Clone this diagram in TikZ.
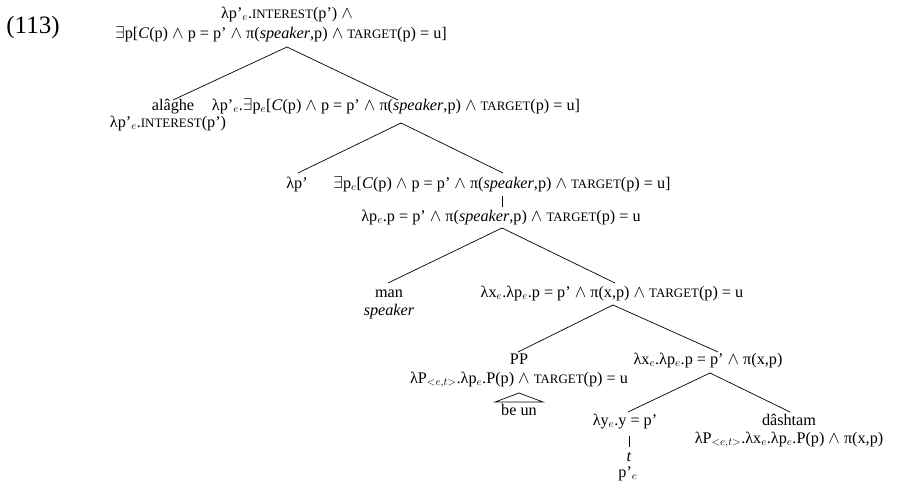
\documentclass[tikz,border=0pt]{standalone}
\usepackage{fontspec}
\setmainfont{Liberation Serif}
\newcommand{\smc}[1]{{\fontsize{12.9}{15}\selectfont #1}}
\newcommand{\band}{$\wedge$}
\begin{document}
\begin{tikzpicture}[x=1pt,y=-1pt,
  lab/.style={anchor=base,inner sep=0pt,font=\fontsize{16.2}{19}\selectfont},
  branch/.style={line width=0.7pt}]
\useasboundingbox (0,0) rectangle (898,482);
\node[lab,font=\fontsize{25}{27}\selectfont] (ex) at (33,33) {(113)};
% root
\node[lab] (r1) at (287,18) {λp’$_e$.\smc{INTEREST}(p’) \band};
\node[lab] (r2) at (281,38) {$\exists$p[\textit{C}(p) \band\ p = p’ \band\ π(\textit{speaker},p) \band\ \smc{TARGET}(p) = u]};
\node[lab] (a1) at (173,110) {alâghe};
\node[lab] (a2) at (168,127) {λp’$_e$.\smc{INTEREST}(p’)};
\node[lab] (b0) at (396,110) {λp’$_e$.$\exists$p$_e$[\textit{C}(p) \band\ p = p’ \band\ π(\textit{speaker},p) \band\ \smc{TARGET}(p) = u]};
\node[lab] (c1) at (297,188) {λp’};
\node[lab] (c2) at (502,188) {$\exists$p$_e$[\textit{C}(p) \band\ p = p’ \band\ π(\textit{speaker},p) \band\ \smc{TARGET}(p) = u]};
\node[lab] (d0) at (501,221) {λp$_e$.p = p’ \band\ π(\textit{speaker},p) \band\ \smc{TARGET}(p) = u};
\node[lab] (e1) at (389,297) {man};
\node[lab] (e2) at (389,315) {\textit{speaker}};
\node[lab] (f0) at (612,297) {λx$_e$.λp$_e$.p = p’ \band\ π(x,p) \band\ \smc{TARGET}(p) = u};
\node[lab] (g1) at (519,364) {PP};
\node[lab] (g2) at (519,383) {λP$_{<e,t>}$.λp$_e$.P(p) \band\ \smc{TARGET}(p) = u};
\node[lab] (g3) at (519,415) {be un};
\node[lab] (h0) at (708,364) {λx$_e$.λp$_e$.p = p’ \band\ π(x,p)};
\node[lab] (i1) at (625,425) {λy$_e$.y = p’};
\node[lab] (i2) at (629,461) {\textit{t}};
\node[lab] (i3) at (628,477) {p’$_e$};
\node[lab] (j1) at (789,425) {dâshtam};
\node[lab] (j2) at (789,443) {λP$_{<e,t>}$.λx$_e$.λp$_e$.P(p) \band\ π(x,p)};
% branch points
\coordinate (rS) at (287,47);   \coordinate (aN) at (173,100);  \coordinate (bN) at (398,100);
\coordinate (bS) at (401,123);  \coordinate (c1N) at (298,173); \coordinate (c2N) at (503,173);
\coordinate (c2S) at (502,196); \coordinate (dN) at (502,207);
\coordinate (dS) at (502,228);  \coordinate (eN) at (388,283); \coordinate (fN) at (615,283);
\coordinate (fS) at (613,305);  \coordinate (gN) at (518,352); \coordinate (hN) at (718,352);
\coordinate (hS) at (710,373);  \coordinate (iN) at (628,412); \coordinate (jN) at (790,412);
\coordinate (i1S) at (629,436); \coordinate (i2N) at (629,447);
\coordinate (tT) at (519,393);  \coordinate (tL) at (495,402); \coordinate (tR) at (543,402);
\foreach \a/\b in {rS/aN,rS/bN,bS/c1N,bS/c2N,c2S/dN,dS/eN,dS/fN,fS/gN,fS/hN,hS/iN,hS/jN,i1S/i2N}
  \draw[branch] (\a) -- (\b);
\draw[branch] (tT) -- (tL) -- (tR) -- cycle;
\end{tikzpicture}
\end{document}
